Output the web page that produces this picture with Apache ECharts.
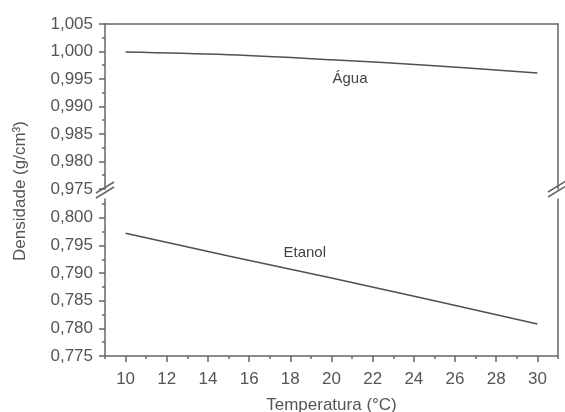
<!DOCTYPE html>
<html>
<head>
<meta charset="utf-8">
<script src="https://cdn.jsdelivr.net/npm/echarts@6/dist/echarts.min.js"></script>
<style>
    html, body { margin: 0; padding: 0; background: #fff; }
    #main { width: 565px; height: 412px; }
</style>
</head>
<body>
<div id="main"></div>
<script>
// dados
const temperaturas = [10, 15, 20, 25, 30];
const agua = [0.9999, 0.9994, 0.9985, 0.9974, 0.9961];
const etanol = [0.7972, 0.7931, 0.7891, 0.7850, 0.7808];

const xMajor = [10, 12, 14, 16, 18, 20, 22, 24, 26, 28, 30];
const xMinor = [9, 11, 13, 15, 17, 19, 21, 23, 25, 27, 29, 31];
const yTopMajor = [0.975, 0.980, 0.985, 0.990, 0.995, 1.000, 1.005];
const yTopMinor = [0.9775, 0.9825, 0.9875, 0.9925, 0.9975, 1.0025];
const yBotMajor = [0.775, 0.780, 0.785, 0.790, 0.795, 0.800];
const yBotMinor = [0.7775, 0.7825, 0.7875, 0.7925, 0.7975, 0.8025];

const cor = '#666';
const corTexto = '#555';
const fonte = 'Liberation Sans, Arial, sans-serif';
const fmt = function (v) { return v.toFixed(3).replace('.', ','); };

const chart = echarts.init(document.getElementById('main'));

function eixoY(grid, min, max, opts) {
    return Object.assign({
        type: 'value', gridIndex: grid, min: min, max: max, position: 'left',
        axisLine: { show: true, lineStyle: { color: cor, width: 1.5 } },
        axisTick: { show: false },
        axisLabel: { show: false },
        splitLine: { show: false }
    }, opts);
}

function eixoX(grid, opts) {
    return Object.assign({
        type: 'value', gridIndex: grid, min: 9, max: 31, position: 'bottom',
        axisLine: { show: true, lineStyle: { color: cor, width: 1.5 } },
        axisTick: { show: false },
        axisLabel: { show: false },
        splitLine: { show: false }
    }, opts);
}

const rotulo = { color: corTexto, fontSize: 17, fontFamily: fonte };

const option = {
    animation: false,
    backgroundColor: '#fff',
    grid: [
        { left: 105, right: 7, top: 24, height: 165, outerBoundsMode: 'none', containLabel: false },
        { left: 105, right: 7, top: 199, height: 157, outerBoundsMode: 'none', containLabel: false }
    ],
    xAxis: [
        eixoX(0, { position: 'top' }),
        eixoX(1, {
            axisTick: { show: true, customValues: xMajor, length: 6, lineStyle: { color: cor, width: 1.5 } },
            axisLabel: Object.assign({ show: true, customValues: xMajor, margin: 15 }, rotulo),
            name: 'Temperatura (°C)', nameLocation: 'middle', nameGap: 41,
            nameTextStyle: { color: corTexto, fontSize: 17, fontFamily: fonte }
        }),
        eixoX(1, {
            axisLine: { show: false },
            axisTick: { show: true, customValues: xMinor, length: 3, lineStyle: { color: cor, width: 1.5 } }
        })
    ],
    yAxis: [
        eixoY(0, 0.975, 1.005, {
            axisTick: { show: true, customValues: yTopMajor, length: 6, lineStyle: { color: cor, width: 1.5 } },
            axisLabel: Object.assign({ show: true, customValues: yTopMajor, margin: 12, formatter: fmt }, rotulo)
        }),
        eixoY(0, 0.975, 1.005, {
            axisLine: { show: false },
            axisTick: { show: true, customValues: yTopMinor, length: 3, lineStyle: { color: cor, width: 1.5 } }
        }),
        eixoY(0, 0.975, 1.005, { position: 'right' }),
        eixoY(1, 0.775, 0.8034, {
            axisTick: { show: true, customValues: yBotMajor, length: 6, lineStyle: { color: cor, width: 1.5 } },
            axisLabel: Object.assign({ show: true, customValues: yBotMajor, margin: 12, formatter: fmt }, rotulo)
        }),
        eixoY(1, 0.775, 0.8034, {
            axisLine: { show: false },
            axisTick: { show: true, customValues: yBotMinor, length: 3, lineStyle: { color: cor, width: 1.5 } }
        }),
        eixoY(1, 0.775, 0.8034, { position: 'right' })
    ],
    series: [
        {
            name: 'Água',
            type: 'line',
            xAxisIndex: 0,
            yAxisIndex: 0,
            smooth: 0.4,
            showSymbol: false,
            lineStyle: { color: '#505050', width: 1.5 },
            data: temperaturas.map(function (t, i) { return [t, agua[i]]; }),
            markPoint: {
                symbolSize: 0,
                label: { show: true, position: 'inside', formatter: 'Água', color: '#444', fontSize: 15, fontFamily: fonte },
                data: [{ coord: [20.9, 0.9951] }]
            }
        },
        {
            name: 'Etanol',
            type: 'line',
            xAxisIndex: 1,
            yAxisIndex: 3,
            showSymbol: false,
            lineStyle: { color: '#505050', width: 1.5 },
            data: temperaturas.map(function (t, i) { return [t, etanol[i]]; }),
            markPoint: {
                symbolSize: 0,
                label: { show: true, position: 'inside', formatter: 'Etanol', color: '#444', fontSize: 15, fontFamily: fonte },
                data: [{ coord: [18.7, 0.7937] }]
            }
        }
    ],
    graphic: [
        {
            type: 'text', x: 20, y: 191, rotation: Math.PI / 2,
            style: {
                text: 'Densidade (g/cm³)', fill: corTexto, fontSize: 17, fontFamily: fonte,
                align: 'center', verticalAlign: 'middle'
            }
        },
        // marcas de quebra do eixo
        { type: 'line', shape: { x1: 96, y1: 193, x2: 114, y2: 182 }, style: { stroke: cor, lineWidth: 1.5 } },
        { type: 'line', shape: { x1: 96, y1: 198, x2: 114, y2: 187 }, style: { stroke: cor, lineWidth: 1.5 } },
        { type: 'line', shape: { x1: 548, y1: 192, x2: 566, y2: 181 }, style: { stroke: cor, lineWidth: 1.5 } },
        { type: 'line', shape: { x1: 548, y1: 197, x2: 566, y2: 186 }, style: { stroke: cor, lineWidth: 1.5 } }
    ]
};

chart.setOption(option);

window.onresize = function () {
    chart.resize();
};
</script>
</body>
</html>
